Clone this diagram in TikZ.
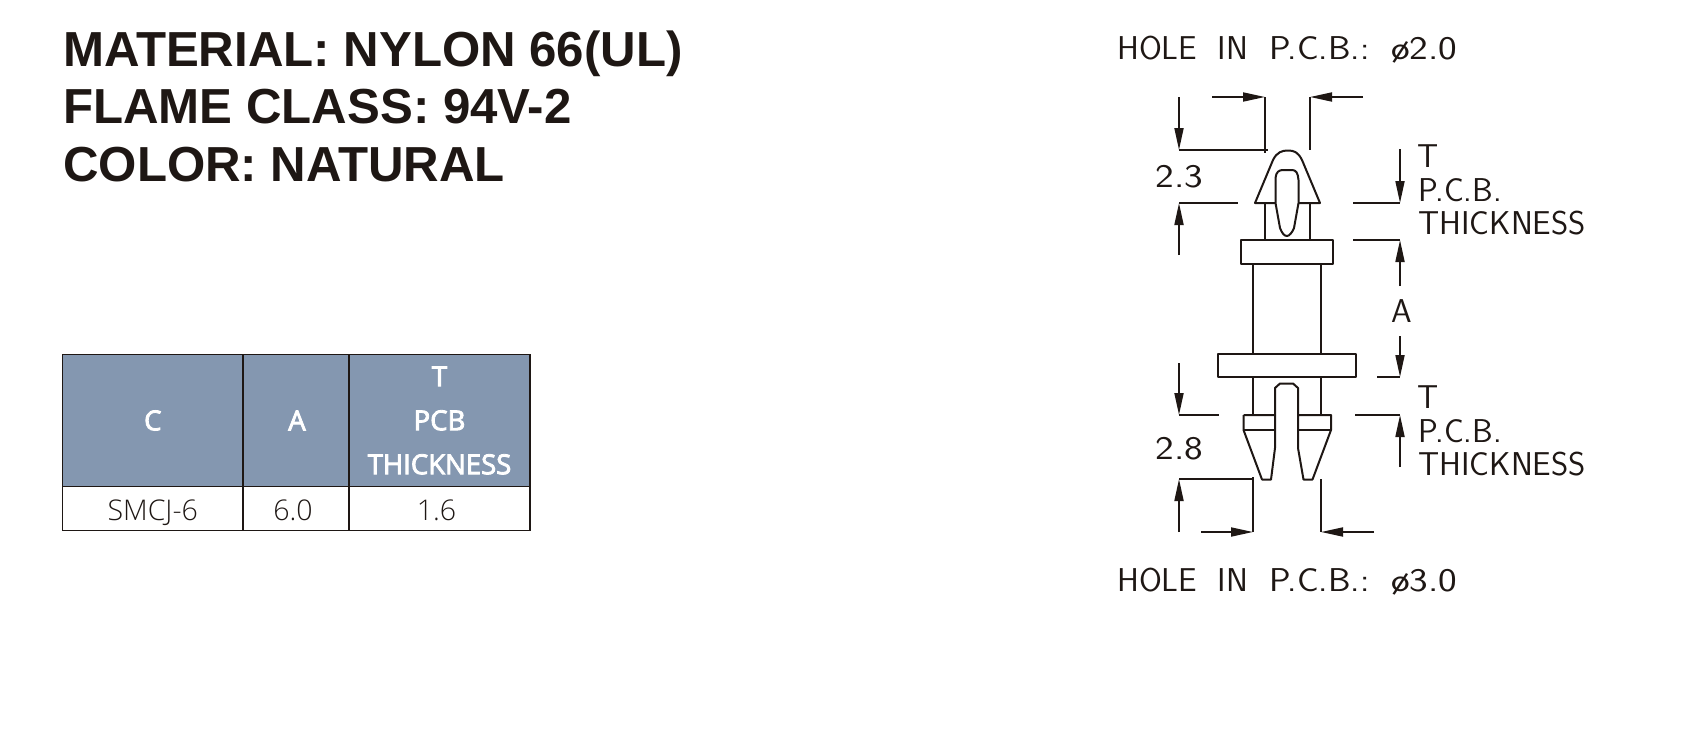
\documentclass[tikz,border=0pt]{standalone}
\usepackage{fontspec}
\usetikzlibrary{arrows.meta}
\setmainfont{Liberation Sans}
\newfontfamily\cadfont{Latin Modern Sans}[WordSpace=2]
\newfontfamily\bodyfont{Open Sans Light}
\newfontfamily\headfont{Open Sans}[FakeBold=3]
\definecolor{inkblack}{HTML}{1E1714}
\definecolor{headblue}{HTML}{8497B0}
\newcommand{\holelabel}[1]{HOLE IN \scalebox{1.09}[1]{P.C.B.:}\hspace{1pt} \scalebox{1.2}[1]{ø#1}}
\newcommand{\celltext}[2][0pt]{\raisebox{-11.5pt}[0pt][0pt]{#2\kern#1}}
\tikzset{
	title/.style={anchor=base west, inner sep=0pt, text=inkblack, font=\fontsize{49.2}{49.2}\selectfont\bfseries},
	cadtext/.style={inner sep=0pt, text=inkblack, font=\fontsize{33}{33}\selectfont\cadfont},
	part/.style={draw=inkblack, line width=2pt, line join=round},
	dimline/.style={draw=inkblack, line width=1.8pt},
	dimarrow/.style={dimline, -{Triangle[length=22pt, width=9pt]}},
	headcell/.style={draw=inkblack, line width=1.1pt, fill=headblue, text=white, align=center, inner sep=0pt, font=\fontsize{27.5}{44}\selectfont\headfont},
	bodycell/.style={draw=inkblack, line width=1.1pt, text=inkblack, inner sep=0pt, font=\fontsize{28.5}{30}\selectfont\bodyfont}
}
\begin{document}
\begin{tikzpicture}[x=1pt, y=-1pt]
	
	\useasboundingbox (0, 0) rectangle (1700, 736);
	
	\node [title] at (63, 66.5) (title1){MATERIAL: NYLON 66(UL)};
	\node [title] at (63, 123) (title2){FLAME CLASS: 94V-2};
	\node [title] at (63, 181) (title3){COLOR: NATURAL};
	
	\node [headcell, minimum width=181pt, minimum height=132pt] at (152.8, 420.5) (head_c){C};
	\node [headcell, minimum width=106pt, minimum height=132pt] at (296, 420.5) (head_a){\kern 2pt A};
	\node [headcell, minimum width=181pt, minimum height=132pt] at (439.5, 420.5) (head_t){T\\PCB\\THICKNESS};
	\node [bodycell, minimum width=181pt, minimum height=44pt] at (152.8, 508.5) (body_c){\celltext{SMCJ-6}};
	\node [bodycell, minimum width=106pt, minimum height=44pt] at (296, 508.5) (body_a){\celltext[6pt]{6.0}};
	\node [bodycell, minimum width=181pt, minimum height=44pt] at (439.5, 508.5) (body_t){\celltext[6pt]{1.6}};
	
	\node [cadtext, anchor=west] at (1117, 50) (hole_top){\holelabel{2.0}};
	\node [cadtext, anchor=west] at (1117, 582) (hole_bottom){\holelabel{3.0}};
	\node [cadtext] at (1179.5, 177) (dim_top){\scalebox{1.2}[1]{2.3}};
	\node [cadtext] at (1179.5, 449) (dim_bottom){\scalebox{1.2}[1]{2.8}};
	\node [cadtext] at (1401.5, 311) (dim_a){A};
	
	\foreach \name/\y in {upper/0, lower/241}{
		\node [cadtext, anchor=base] at (1428, 167+\y) (t_\name){T};
		\node [cadtext, anchor=base west] at (1418, 201+\y) (pcb_\name){P.C.B.};
		\node [cadtext, anchor=base west] at (1418, 234+\y) (thick_\name){THICKNESS};
	}
	
	\draw [part] (1241, 240) rectangle (1333, 264);
	\draw [part] (1218, 354) rectangle (1356, 377);
	\draw [part] (1253, 264) -- (1253, 354);
	\draw [part] (1321, 264) -- (1321, 354);
	
	\draw [part] (1265, 203) -- (1265, 240);
	\draw [part] (1310, 203) -- (1310, 240);
	\draw [part] (1255, 203) -- (1273, 160) .. controls (1277, 152) and (1282, 150.5) .. (1288, 150.5) .. controls (1294, 150.5) and (1298, 152) .. (1302, 160) -- (1320, 203) -- cycle;
	\draw [part, fill=white] (1275.5, 203) -- (1275.5, 178) .. controls (1276, 172) and (1279, 170) .. (1283, 170) -- (1292, 170) .. controls (1296, 170) and (1298, 173) .. (1298.5, 180) -- (1298.5, 203) -- (1294, 228) .. controls (1292, 233) and (1289, 236) .. (1287, 236) .. controls (1284, 236) and (1282, 233) .. (1280, 228) -- cycle;
	
	\draw [part] (1253, 377) -- (1253, 415);
	\draw [part] (1321, 377) -- (1321, 415);
	\draw [part] (1243.5, 415) -- (1275, 415) -- (1275, 388) -- (1280, 383.5) -- (1293, 383.5) -- (1298, 388) -- (1298, 415) -- (1331, 415) -- (1331, 430) -- (1312.5, 479.5) -- (1303.5, 479.5) -- (1298, 448) -- (1298, 415);
	\draw [part] (1243.5, 415) -- (1243.5, 430) -- (1262, 479.5) -- (1271, 479.5) -- (1275, 448) -- (1275, 415);
	\draw [part] (1243.5, 429.5) -- (1275, 429.5);
	\draw [part] (1298, 429.5) -- (1331, 429.5);
	
	\draw [dimline] (1265, 97) -- (1265, 153);
	\draw [dimline] (1310, 97) -- (1310, 150);
	\draw [dimarrow] (1212, 97) -- (1265, 97);
	\draw [dimarrow] (1363, 97) -- (1310, 97);
	\draw [dimarrow] (1179, 97) -- (1179, 150);
	\draw [dimline] (1179, 150) -- (1268, 150);
	\draw [dimline] (1179, 203) -- (1238, 203);
	\draw [dimarrow] (1179, 255) -- (1179, 203);
	
	\draw [dimarrow] (1400, 149) -- (1400, 203);
	\draw [dimline] (1353, 203) -- (1400, 203);
	\draw [dimline] (1353, 240) -- (1400, 240);
	\draw [dimarrow] (1400, 286) -- (1400, 240);
	\draw [dimarrow] (1400, 336) -- (1400, 377);
	\draw [dimline] (1377, 377) -- (1400, 377);
	
	\draw [dimarrow] (1179, 363) -- (1179, 415);
	\draw [dimline] (1179, 415) -- (1219, 415);
	\draw [dimline] (1355, 415) -- (1400, 415);
	\draw [dimarrow] (1400, 467) -- (1400, 415);
	\draw [dimline] (1179, 479) -- (1253, 479);
	\draw [dimarrow] (1179, 532) -- (1179, 479);
	\draw [dimline] (1253, 477) -- (1253, 532);
	\draw [dimline] (1321, 479) -- (1321, 532);
	\draw [dimarrow] (1201, 532) -- (1253, 532);
	\draw [dimarrow] (1374, 532) -- (1321, 532);
	
\end{tikzpicture}
\end{document}
